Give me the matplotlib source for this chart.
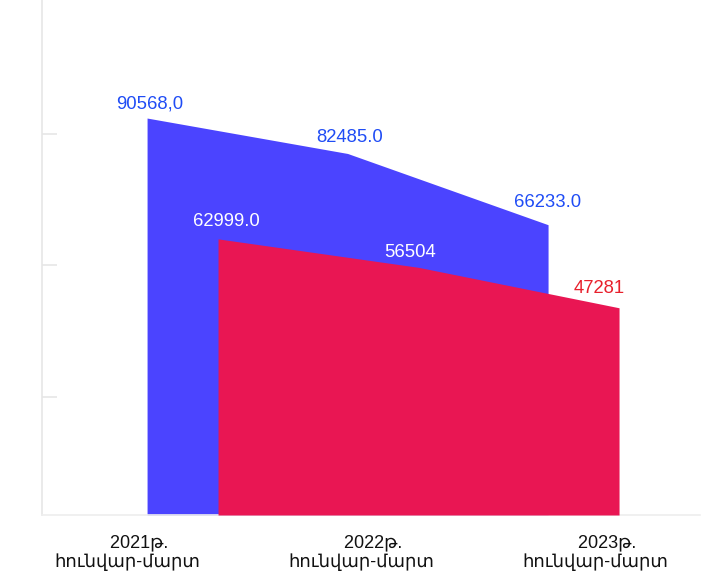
import matplotlib
matplotlib.use("Agg")
import matplotlib.pyplot as plt
import numpy as np

# ---- data ----
periods = ["2021թ.", "2022թ.", "2023թ."]
period_sub = ["հունվար-մարտ", "հունվար-մարտ", "հունվար-մարտ"]
series_back = [90568.0, 82485.0, 66233.0]      # blue
series_front = [62999.0, 56504.0, 47281.0]     # red
labels_back = ["90568,0", "82485.0", "66233.0"]
labels_front = ["62999.0", "56504", "47281"]

# ---- style ----
W, H, DPI = 723, 574, 100
BLUE = "#4b44ff"
RED = "#e91653"
BLUE_TXT = "#1f4cf5"
RED_TXT = "#e8202c"
AX_GREY = "#e6e6e6"
FONT = ["Liberation Sans", "DejaVu Sans"]
depth = 0.354          # horizontal depth shift of front series (3D look)

fig = plt.figure(figsize=(W / DPI, H / DPI), dpi=DPI)
fig.patch.set_facecolor("white")
ax_left, ax_right, ax_bottom, ax_top = 42, 700, 515, 0
ax = fig.add_axes([ax_left / W, (H - ax_bottom) / H,
                   (ax_right - ax_left) / W, (ax_bottom - ax_top) / H])

x = np.arange(len(periods), dtype=float)
xf = x + depth

ax.fill_between(x, 0, series_back, color=BLUE, linewidth=0, zorder=2)
ax.fill_between(xf, 0, series_front, color=RED, linewidth=0, zorder=3)

ax.set_xlim(-0.524, -0.524 + (ax_right - ax_left) / 200.5)
ax.set_ylim(0, 117500)

# value labels
back_off = [(3, 14), (2, 16), (0, 22)]
for xi, v, t, (dx, dy) in zip(x, series_back, labels_back, back_off):
    ax.annotate(t, (xi, v), xytext=(dx, dy), textcoords="offset pixels",
                ha="center", va="center", color=BLUE_TXT, fontsize=13.3,
                family=FONT, zorder=5)
front_off = [(8, 17), (-8, 15), (-20, 19)]
front_col = ["white", "white", RED_TXT]
for xi, v, t, (dx, dy), c in zip(xf, series_front, labels_front, front_off, front_col):
    ax.annotate(t, (xi, v), xytext=(dx, dy), textcoords="offset pixels",
                ha="center", va="center", color=c, fontsize=13.3,
                family=FONT, zorder=5)

# axes styling
for s in ["top", "right"]:
    ax.spines[s].set_visible(False)
ax.spines["left"].set_color(AX_GREY)
ax.spines["bottom"].set_color("#eeeeee")
ax.spines["left"].set_linewidth(1.2)
ax.spines["bottom"].set_linewidth(1.2)
ax.set_yticks([27000, 57000, 87000])
ax.tick_params(axis="y", direction="in", length=11, color=AX_GREY, width=1.2,
               labelleft=False)

# category labels
tick_pos = -0.1 + x * 1.167
ax.set_xticks(tick_pos)
ax.set_xticklabels(["     " + p + "\n" + s for p, s in zip(periods, period_sub)],
                   family=FONT, fontsize=13, linespacing=1.15)
ax.tick_params(axis="x", length=0, pad=14, labelcolor="#111111")

fig.savefig("out.png", dpi=DPI, facecolor="white")
